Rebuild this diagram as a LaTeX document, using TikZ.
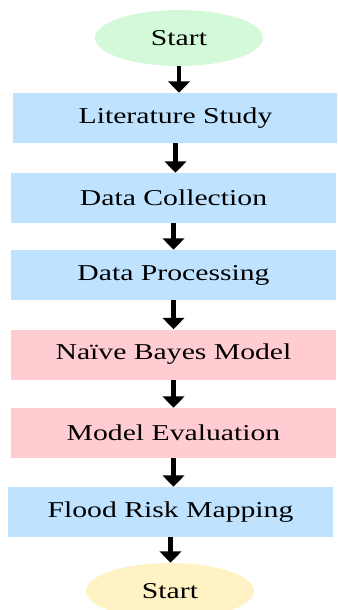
\documentclass[tikz,border=0pt]{standalone}
\usepackage{fontspec}
\setmainfont{Liberation Serif}
\usepackage{graphicx}
\usetikzlibrary{shapes.geometric, arrows.meta}

\definecolor{startgreen}{RGB}{212,249,216}
\definecolor{endyellow}{RGB}{255,242,196}
\definecolor{stepblue}{RGB}{191,227,255}
\definecolor{modelpink}{RGB}{255,204,209}

\newcommand{\wide}[1]{\scalebox{1.31}[1]{#1}}

\begin{document}
\begin{tikzpicture}[x=0.75pt, y=-0.75pt,
  stepbox/.style={rectangle, inner sep=0pt, minimum width=243.75pt, minimum height=37.5pt, font=\fontsize{17}{19}\selectfont},
  termnode/.style={ellipse, inner sep=0pt, minimum width=126pt, minimum height=42pt, font=\fontsize{17}{19}\selectfont},
  flowarrow/.style={-{Triangle[width=16pt, length=8.5pt]}, line width=3.4pt}]

% Frame
\useasboundingbox (0,0) rectangle (337,610);
\clip (0,0) rectangle (337,610);

% Terminals
\node[termnode, fill=startgreen] (start) at (179,38) {\wide{Start}};
\node[termnode, fill=endyellow] (stop) at (170,591) {\wide{Start}};

% Process steps
\node[stepbox, fill=stepblue] (lit) at (175.5,118) {\wide{Literature Study}};
\node[stepbox, fill=stepblue] (coll) at (173.5,198) {\wide{Data Collection}};
\node[stepbox, fill=stepblue] (proc) at (173.5,275) {\wide{Data Processing}};
\node[stepbox, fill=modelpink] (bayes) at (173.5,354.5) {\wide{Naïve Bayes Model}};
\node[stepbox, fill=modelpink] (eval) at (173.5,433) {\wide{Model Evaluation}};
\node[stepbox, fill=stepblue] (flood) at (170.5,512) {\wide{Flood Risk Mapping}};

% Arrows
\foreach \a/\b in {start/lit, lit/coll, coll/proc, proc/bayes, bayes/eval, eval/flood, flood/stop} {
    \draw[flowarrow] (\a.south) -- (\a.south |- \b.north);
}

\end{tikzpicture}
\end{document}
